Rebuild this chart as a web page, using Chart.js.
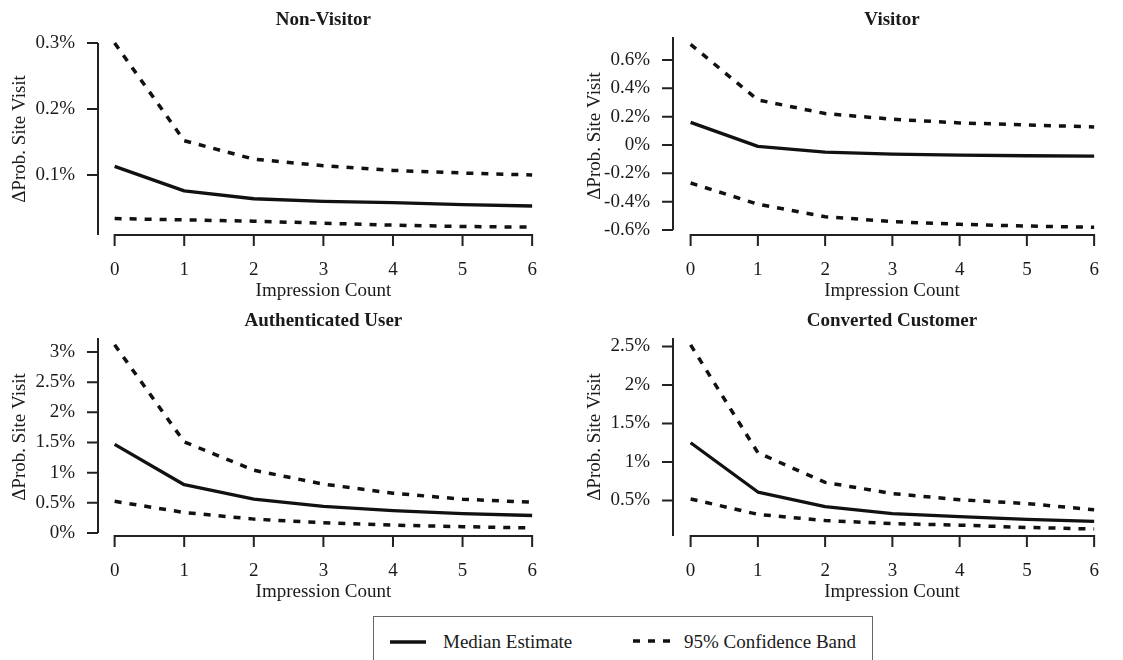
<!DOCTYPE html>
<html>
<head>
<meta charset="utf-8">
<script src="https://cdn.jsdelivr.net/npm/chart.js@4.4.1/dist/chart.umd.min.js"></script>
<style>
  html, body { margin: 0; padding: 0; background: #ffffff; }
  body { width: 1123px; height: 660px; position: relative; overflow: hidden;
         font-family: "Liberation Serif", "Times New Roman", serif; color: #1a1a1a; }
  canvas { position: absolute; }
  #legend { position: absolute; left: 373px; top: 616px; width: 500px; height: 70px;
            border: 1.5px solid #666; box-sizing: border-box; background: #fff; }
  #legend .txt { position: absolute; font-size: 19px; line-height: 22px; white-space: nowrap; color: #1a1a1a; }
  #legend svg { position: absolute; }
</style>
</head>
<body>
<canvas id="c1" width="561" height="302" style="left:0px;top:0px;"></canvas>
<canvas id="c2" width="562" height="302" style="left:561px;top:0px;"></canvas>
<canvas id="c3" width="561" height="302" style="left:0px;top:301px;"></canvas>
<canvas id="c4" width="562" height="302" style="left:561px;top:301px;"></canvas>

<div id="legend">
  <svg width="40" height="8" style="left:15px;top:21px;"><line x1="1" y1="4" x2="37" y2="4" stroke="#111" stroke-width="3.3"/></svg>
  <span class="txt" style="left:69px;top:14px;">Median Estimate</span>
  <svg width="44" height="8" style="left:257px;top:20px;"><line x1="2" y1="4" x2="39" y2="4" stroke="#111" stroke-width="3.5" stroke-dasharray="7 8"/></svg>
  <span class="txt" style="left:310px;top:14px;">95% Confidence Band</span>
</div>

<script>
// ---------------- data ----------------
const impressions = [0, 1, 2, 3, 4, 5, 6];
const xTicks = [0, 1, 2, 3, 4, 5, 6];

const panelTitles = ["Non-Visitor", "Visitor", "Authenticated User", "Converted Customer"];
const xAxisTitle = "Impression Count";
const yAxisTitle = "\u0394Prob. Site Visit";
const legendLabels = ["Median Estimate", "95% Confidence Band"];

// values in percent
const nonVisitorMedian = [0.113, 0.076, 0.064, 0.060, 0.058, 0.055, 0.053];
const nonVisitorUpper  = [0.300, 0.152, 0.124, 0.114, 0.107, 0.103, 0.100];
const nonVisitorLower  = [0.034, 0.032, 0.030, 0.027, 0.024, 0.022, 0.021];
const nonVisitorTicks  = [0.1, 0.2, 0.3];

const visitorMedian = [0.160, -0.010, -0.050, -0.065, -0.072, -0.076, -0.078];
const visitorUpper  = [0.710, 0.318, 0.222, 0.182, 0.156, 0.142, 0.127];
const visitorLower  = [-0.268, -0.418, -0.506, -0.541, -0.560, -0.572, -0.581];
const visitorTicks  = [-0.6, -0.4, -0.2, 0, 0.2, 0.4, 0.6];

const authMedian = [1.47, 0.80, 0.56, 0.44, 0.37, 0.32, 0.29];
const authUpper  = [3.12, 1.51, 1.04, 0.81, 0.66, 0.56, 0.51];
const authLower  = [0.525, 0.34, 0.23, 0.17, 0.13, 0.105, 0.083];
const authTicks  = [0, 0.5, 1, 1.5, 2, 2.5, 3];

const convMedian = [1.25, 0.61, 0.42, 0.33, 0.29, 0.255, 0.23];
const convUpper  = [2.52, 1.12, 0.735, 0.59, 0.51, 0.46, 0.38];
const convLower  = [0.52, 0.32, 0.24, 0.20, 0.18, 0.15, 0.13];
const convTicks  = [0.5, 1, 1.5, 2, 2.5];

// ---------------- styling ----------------
const FONT = '"Liberation Serif", "Times New Roman", serif';
const TEXT_COLOR = '#1a1a1a';
const LINE_COLOR = '#111111';
const AXIS_COLOR = '#222222';

const rAxesPlugin = {
  id: 'rAxes',
  afterDraw(chart, args, opts) {
    const ctx = chart.ctx;
    const a = chart.chartArea;
    const xs = chart.scales.x, ys = chart.scales.y;
    ctx.save();
    ctx.strokeStyle = AXIS_COLOR;
    ctx.lineWidth = 2;
    ctx.lineCap = 'butt';
    ctx.beginPath();
    // y axis line
    const yBot = (opts.yLineEnd === null || opts.yLineEnd === undefined) ? a.bottom : ys.getPixelForValue(opts.yLineEnd);
    ctx.moveTo(a.left, a.top);
    ctx.lineTo(a.left, yBot);
    ys.ticks.forEach(t => {
      const p = ys.getPixelForValue(t.value);
      ctx.moveTo(a.left - 11, p);
      ctx.lineTo(a.left, p);
    });
    // x axis line (from first to last tick)
    const x0 = xs.getPixelForValue(xTicks[0]);
    const x1 = xs.getPixelForValue(xTicks[xTicks.length - 1]);
    ctx.moveTo(x0 - 1, a.bottom);
    ctx.lineTo(x1 + 1, a.bottom);
    xs.ticks.forEach(t => {
      const p = xs.getPixelForValue(t.value);
      ctx.moveTo(p, a.bottom);
      ctx.lineTo(p, a.bottom + 11);
    });
    ctx.stroke();
    // panel title
    ctx.fillStyle = TEXT_COLOR;
    ctx.font = 'bold 19px ' + FONT;
    ctx.textAlign = 'center';
    ctx.textBaseline = 'middle';
    ctx.fillText(opts.title, (a.left + a.right) / 2, opts.titleY);
    ctx.restore();
  }
};

function series(vals) { return vals.map((v, i) => ({ x: impressions[i], y: v })); }

function makePanel(id, cfg) {
  const fontReg = { family: FONT, size: 19 };
  new Chart(document.getElementById(id), {
    type: 'line',
    data: {
      datasets: [
        { label: legendLabels[0], data: series(cfg.median), borderColor: LINE_COLOR, borderWidth: 3.3,
          pointRadius: 0, tension: 0, clip: false, borderCapStyle: 'butt', borderJoinStyle: 'round' },
        { label: legendLabels[1], data: series(cfg.upper), borderColor: LINE_COLOR, borderWidth: 3.5,
          borderDash: [7, 8], borderCapStyle: 'butt', pointRadius: 0, tension: 0, clip: false },
        { label: legendLabels[1], data: series(cfg.lower), borderColor: LINE_COLOR, borderWidth: 3.5,
          borderDash: [7, 8], borderCapStyle: 'butt', pointRadius: 0, tension: 0, clip: false }
      ]
    },
    options: {
      responsive: false,
      animation: false,
      devicePixelRatio: 1,
      layout: { padding: { top: cfg.padTop, left: 0, right: 3, bottom: 0 } },
      plugins: {
        legend: { display: false },
        tooltip: { enabled: false },
        title: { display: false },
        rAxes: { yLineEnd: cfg.yLineEnd, title: cfg.title, titleY: 20.5 }
      },
      scales: {
        x: {
          type: 'linear', position: 'bottom', min: cfg.xMin, max: cfg.xMax,
          afterBuildTicks: s => { s.ticks = xTicks.map(v => ({ value: v })); },
          afterFit: s => { s.height = 67; },
          ticks: { callback: v => String(v), padding: 24, color: TEXT_COLOR, font: fontReg, autoSkip: false, maxRotation: 0 },
          grid: { display: false, drawTicks: false },
          border: { display: false },
          title: { display: true, text: xAxisTitle, color: TEXT_COLOR, font: fontReg, padding: { top: 0, bottom: 0 } }
        },
        y: {
          type: 'linear', position: 'left', min: cfg.yMin, max: cfg.yMax,
          afterBuildTicks: s => { s.ticks = cfg.yTicks.map(v => ({ value: v })); },
          afterFit: s => { s.width = cfg.yWidth; },
          ticks: { callback: v => v + '%', padding: 23, color: TEXT_COLOR, font: fontReg, autoSkip: false },
          grid: { display: false, drawTicks: false },
          border: { display: false },
          title: { display: true, text: yAxisTitle, color: TEXT_COLOR, font: fontReg, padding: { top: cfg.yTitlePad, bottom: 0 } }
        }
      }
    },
    plugins: [rAxesPlugin]
  });
}

makePanel('c1', { title: panelTitles[0], median: nonVisitorMedian, upper: nonVisitorUpper, lower: nonVisitorLower,
  yTicks: nonVisitorTicks, yMin: 0.00909, yMax: 0.3, yLineEnd: null,
  xMin: -0.239, xMax: 6.239, padTop: 43, yWidth: 98, yTitlePad: 9 });

makePanel('c2', { title: panelTitles[1], median: visitorMedian, upper: visitorUpper, lower: visitorLower,
  yTicks: visitorTicks, yMin: -0.6353, yMax: 0.7624, yLineEnd: -0.6,
  xMin: -0.262, xMax: 6.25, padTop: 37, yWidth: 112, yTitlePad: 23 });

makePanel('c3', { title: panelTitles[2], median: authMedian, upper: authUpper, lower: authLower,
  yTicks: authTicks, yMin: -0.0497, yMax: 3.232, yLineEnd: 0,
  xMin: -0.239, xMax: 6.239, padTop: 37, yWidth: 98, yTitlePad: 9 });

makePanel('c4', { title: panelTitles[3], median: convMedian, upper: convUpper, lower: convLower,
  yTicks: convTicks, yMin: 0.039, yMax: 2.610, yLineEnd: null,
  xMin: -0.262, xMax: 6.25, padTop: 37, yWidth: 112, yTitlePad: 23 });
</script>
</body>
</html>
